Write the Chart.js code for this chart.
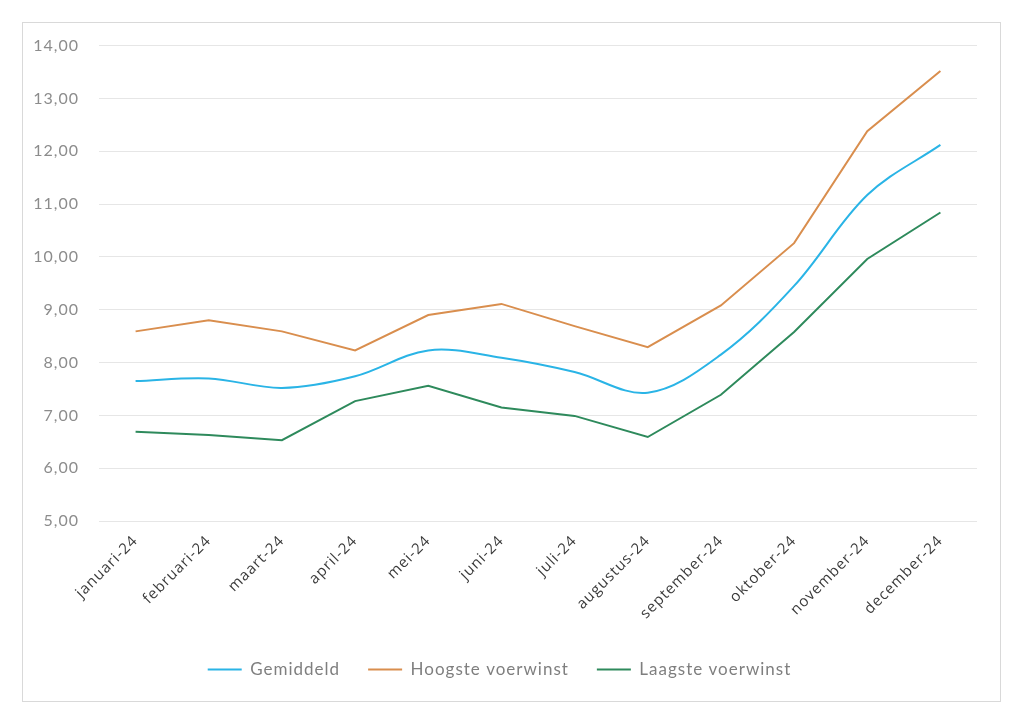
<!DOCTYPE html>
<html>
<head>
<meta charset="utf-8">
<script src="https://cdn.jsdelivr.net/npm/chart.js@4"></script>
<style>
  body { margin: 0; background: #fff; }
  #frame {
    position: absolute; left: 22px; top: 22px;
    width: 979px; height: 680px;
    border: 1px solid #d9d9d9; box-sizing: border-box;
  }
  #wrap {
    position: absolute; left: 22px; top: 16px;
    width: 979px; height: 680px;
  }
</style>
</head>
<body>
<div id="frame"></div>
<div id="wrap"><canvas id="chart"></canvas></div>
<script>
// voerwinst per maand
var maanden = ["januari-24", "februari-24", "maart-24", "april-24", "mei-24", "juni-24",
               "juli-24", "augustus-24", "september-24", "oktober-24", "november-24", "december-24"];
var gemiddeld = [7.65, 7.70, 7.52, 7.74, 8.23, 8.09, 7.82, 7.43, 8.15, 9.45, 11.17, 12.12];
var hoogste   = [8.59, 8.80, 8.59, 8.23, 8.90, 9.11, 8.69, 8.29, 9.08, 10.26, 12.38, 13.52];
var laagste   = [6.69, 6.63, 6.53, 7.27, 7.56, 7.15, 6.99, 6.59, 7.39, 8.58, 9.96, 10.84];
var yTicks = [5, 6, 7, 8, 9, 10, 11, 12, 13, 14];

var ctx = document.getElementById("chart").getContext("2d");

// text in the original is spaced quite wide; canvas resize wipes the state so set it each time
var spacing = {
    id: "spacing",
    beforeLayout: function(chart) { chart.ctx.letterSpacing = "1px"; },
    beforeDraw: function(chart) { chart.ctx.letterSpacing = "1px"; }
};

var data = {
    labels: maanden,
    datasets: [
        {
            label: "Gemiddeld",
            data: gemiddeld,
            borderColor: "#2ab4e6",
            backgroundColor: "#2ab4e6",
            borderWidth: 2,
            tension: 0.35,
            pointRadius: 0
        },
        {
            label: "Hoogste voerwinst",
            data: hoogste,
            borderColor: "#d98e4e",
            backgroundColor: "#d98e4e",
            borderWidth: 2,
            tension: 0,
            pointRadius: 0
        },
        {
            label: "Laagste voerwinst",
            data: laagste,
            borderColor: "#2e8a5c",
            backgroundColor: "#2e8a5c",
            borderWidth: 2,
            tension: 0,
            pointRadius: 0
        }
    ]
};

var options = {
    responsive: true,
    maintainAspectRatio: false,
    animation: false,
    layout: { padding: { top: 0, right: 24, bottom: 8, left: 0 } },
    plugins: {
        tooltip: { enabled: false },
        legend: {
            position: "bottom",
            labels: {
                usePointStyle: true,
                pointStyle: "line",
                pointStyleWidth: 34,
                padding: 28,
                color: "#7f7f7f",
                font: { family: "Lato", size: 17 }
            }
        }
    },
    scales: {
        x: {
            offset: true,
            grid: { display: false },
            border: { display: false },
            ticks: {
                minRotation: 45,
                maxRotation: 45,
                color: "#3a3a3a",
                font: { family: "Open Sans", size: 15 }
            },
            afterFit: function(scale) { scale.height = 112; }
        },
        y: {
            min: 5,
            max: 14,
            afterBuildTicks: function(scale) {
                scale.ticks = yTicks.map(function(v) { return { value: v }; });
            },
            grid: { color: "#e6e6e6", lineWidth: 1, drawTicks: false },
            border: { display: false },
            ticks: {
                padding: 20,
                color: "#8c8c8c",
                font: { family: "Lato", size: 16 },
                callback: function(v) { return v.toFixed(2).replace(".", ","); }
            },
            afterFit: function(scale) { scale.width = 77; }
        }
    }
};

var myChart = new Chart(ctx, { type: "line", data: data, options: options, plugins: [spacing] });
</script>
</body>
</html>
